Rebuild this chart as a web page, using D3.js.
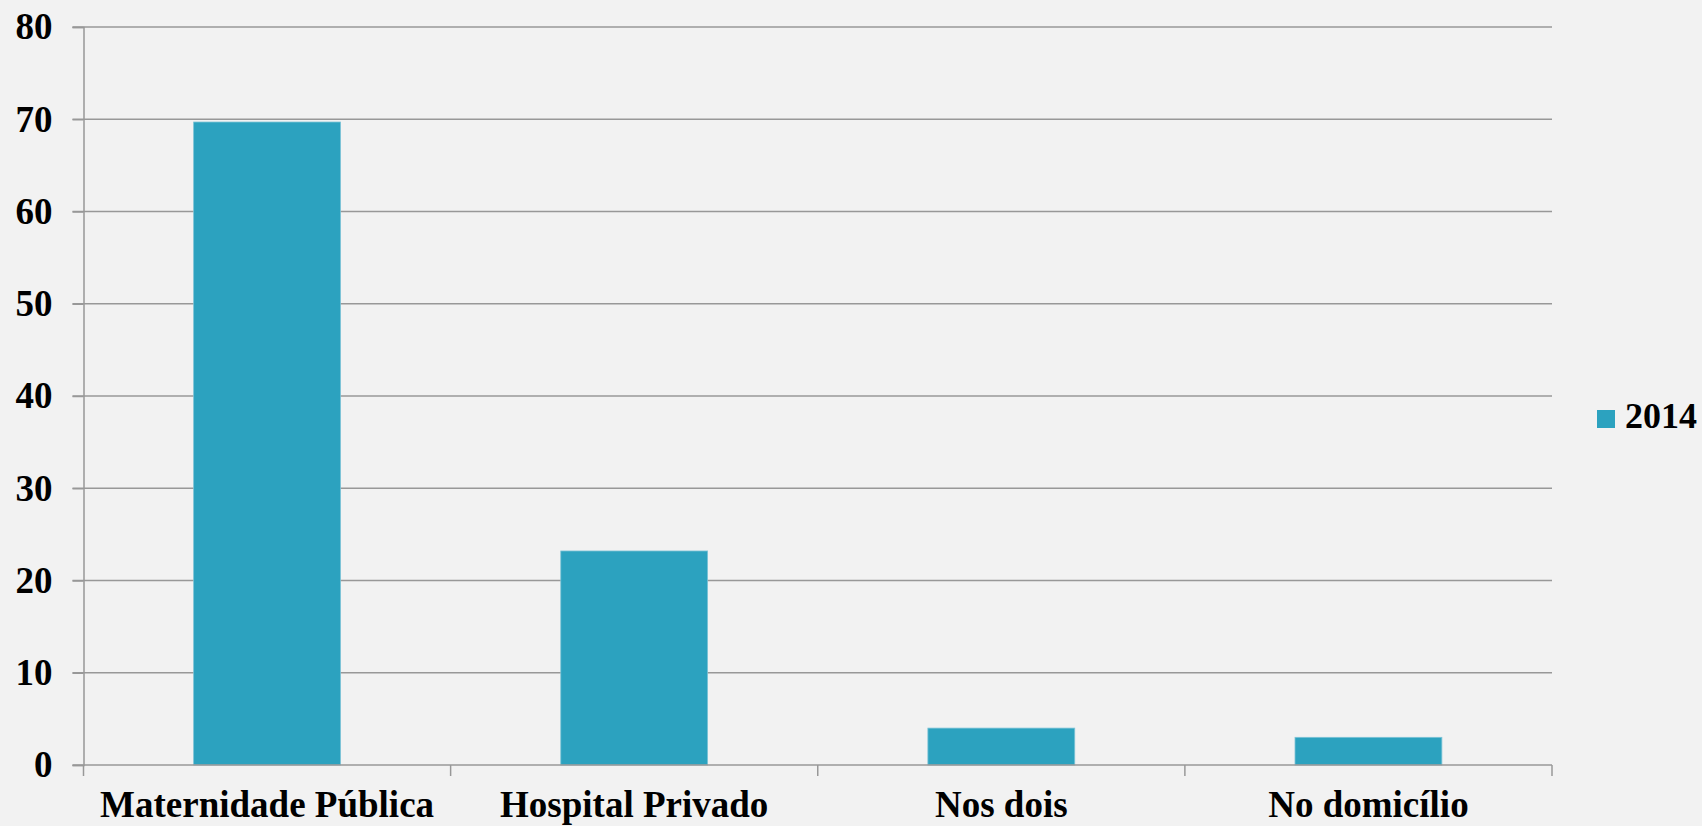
<!DOCTYPE html>
<html>
<head>
<meta charset="utf-8">
<script src="https://cdn.jsdelivr.net/npm/d3@7"></script>
<style>
  html, body { margin: 0; padding: 0; background: #f2f2f2; }
  svg { display: block; }
  text { font-family: "Liberation Serif", "Times New Roman", serif; font-weight: bold; fill: #000; }
</style>
</head>
<body>
<svg id="chart" width="1702" height="826"></svg>
<script>
// Local de parto, 2014 (%)
const categories = ["Maternidade Pública", "Hospital Privado", "Nos dois", "No domicílio"];
const values2014 = [69.7, 23.2, 4.0, 3.0];
const seriesName = "2014";
const yTicks = [0, 10, 20, 30, 40, 50, 60, 70, 80];

const svg = d3.select("#chart");
const W = 1702, H = 826;
const margin = { left: 83.5, top: 27, bottom: 61 };
const plotRight = 1552;
const fontSize = 37;

const x = d3.scaleBand()
  .domain(categories)
  .range([margin.left, plotRight])
  .paddingInner(0.6)
  .paddingOuter(0.3);

const y = d3.scaleLinear()
  .domain([0, 80])
  .range([H - margin.bottom, margin.top]);

svg.append("rect").attr("width", W).attr("height", H).attr("fill", "#f2f2f2");

// horizontal gridlines
svg.append("g")
  .selectAll("line")
  .data(yTicks.filter(d => d > 0))
  .join("line")
  .attr("x1", margin.left - 11)
  .attr("x2", plotRight)
  .attr("y1", d => y(d))
  .attr("y2", d => y(d))
  .attr("stroke", "#989898")
  .attr("stroke-width", 1.5);

// bars
svg.append("g")
  .selectAll("rect")
  .data(categories)
  .join("rect")
  .attr("x", d => x(d))
  .attr("width", x.bandwidth())
  .attr("y", (d, i) => y(values2014[i]))
  .attr("height", (d, i) => y(0) - y(values2014[i]))
  .attr("fill", "#2ca2bf")
  .attr("stroke", "#7cc3d6")
  .attr("stroke-width", 0.8);

// y axis
const yAxis = d3.axisLeft(y)
  .tickValues(yTicks)
  .tickSize(11)
  .tickPadding(20);
const gy = svg.append("g")
  .attr("transform", `translate(${margin.left},0)`)
  .call(yAxis);
gy.select(".domain").attr("stroke", "#989898").attr("stroke-width", 1.5);
gy.selectAll(".tick line").attr("stroke", "#989898").attr("stroke-width", 1.5);
gy.selectAll(".tick text")
  .attr("font-size", fontSize)
  .attr("font-family", "Liberation Serif, Times New Roman, serif")
  .attr("font-weight", "bold")
  .attr("fill", "#000");

// x axis with ticks at category boundaries
const gx = svg.append("g")
  .attr("transform", `translate(0,${y(0)})`);
gx.append("line")
  .attr("x1", margin.left - 11).attr("x2", plotRight)
  .attr("stroke", "#989898").attr("stroke-width", 1.5);
const bounds = d3.range(categories.length + 1).map(i => margin.left + i * (plotRight - margin.left) / categories.length);
gx.selectAll(".bt")
  .data(bounds)
  .join("line")
  .attr("class", "bt")
  .attr("x1", d => d).attr("x2", d => d)
  .attr("y1", 0).attr("y2", 11)
  .attr("stroke", "#989898").attr("stroke-width", 1.5);
gx.selectAll(".cl")
  .data(categories)
  .join("text")
  .attr("class", "cl")
  .attr("x", d => x(d) + x.bandwidth() / 2)
  .attr("y", 52)
  .attr("text-anchor", "middle")
  .attr("font-size", fontSize)
  .text(d => d);

// legend
const lg = svg.append("g").attr("transform", "translate(1597,410)");
lg.append("rect").attr("width", 18).attr("height", 18).attr("fill", "#2ca2bf");
lg.append("text").attr("x", 28).attr("y", 18).attr("font-size", 36).text(seriesName);
</script>
</body>
</html>
